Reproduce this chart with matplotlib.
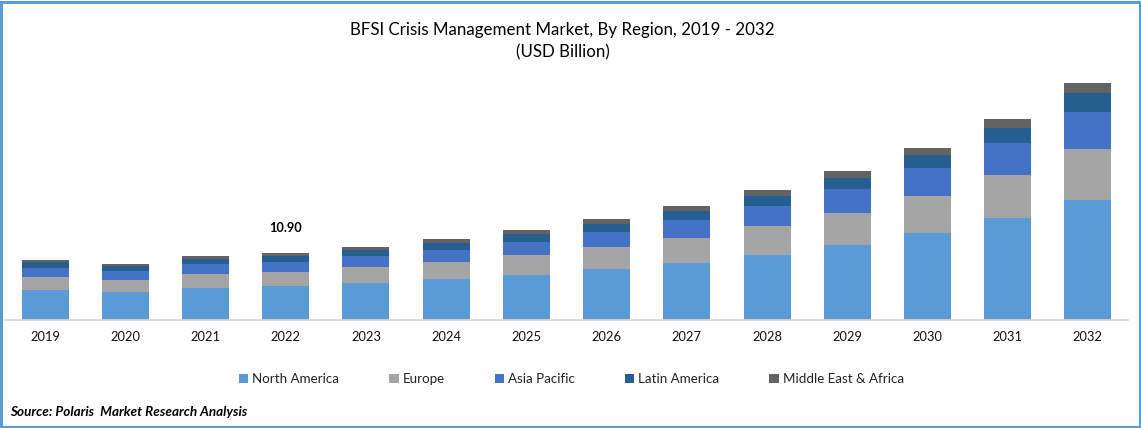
import matplotlib.pyplot as plt
import numpy as np
from matplotlib.patches import Rectangle
plt.rcParams.update({'font.family': ['Lato', 'DejaVu Sans']})

W, H = 1141, 428

years = [str(y) for y in range(2019, 2033)]
north_america = [4.79, 4.46, 5.12, 5.45, 5.95, 6.61, 7.27, 8.26, 9.25, 10.57, 12.22, 14.20, 16.68, 19.65]
europe = [2.15, 1.98, 2.31, 2.31, 2.64, 2.81, 3.30, 3.63, 4.13, 4.79, 5.28, 6.11, 7.10, 8.42]
asia_pacific = [1.49, 1.49, 1.65, 1.65, 1.82, 1.98, 2.15, 2.48, 2.97, 3.30, 3.96, 4.62, 5.28, 6.11]
latin_america = [0.99, 0.83, 0.83, 0.99, 0.99, 1.16, 1.32, 1.32, 1.49, 1.65, 1.82, 2.15, 2.48, 2.97]
mea = [0.33, 0.33, 0.50, 0.50, 0.50, 0.66, 0.66, 0.83, 0.83, 0.99, 1.16, 1.16, 1.49, 1.65]

names = ['North America', 'Europe', 'Asia Pacific', 'Latin America', 'Middle East & Africa']
series = [north_america, europe, asia_pacific, latin_america, mea]
colors = ['#5B9BD5', '#A5A5A5', '#4472C4', '#255E91', '#636363']

fig = plt.figure(figsize=(W/100, H/100), dpi=100)
ax = fig.add_axes([5/W, 1-319.5/H, 1123/W, 249.5/H])

x = np.arange(len(years))
bottom = np.zeros(len(years))
for name, vals, col in zip(names, series, colors):
    ax.bar(x, vals, 0.586, bottom=bottom, color=col, label=name)
    bottom += np.array(vals)

ax.set_xlim(-0.5, 13.5)
ax.set_ylim(0, 41.0)
ax.set_yticks([])
ax.set_xticks(x, years, fontsize=9.3, color='#111111')
ax.tick_params(axis='x', length=0, pad=8.5)
for s in ['top', 'left', 'right']:
    ax.spines[s].set_visible(False)
ax.spines['bottom'].set_color('#D9D9D9')
ax.spines['bottom'].set_linewidth(1.2)

ax.text(3, 10.90+3.15, '10.90', ha='center', va='bottom', fontsize=9.2, fontweight='bold')

fig.text(562.5/W, 1-29.5/H, 'BFSI Crisis Management Market, By Region, 2019 - 2032', ha='center', va='center', fontsize=12.15)
fig.text(562.5/W, 1-52.7/H, '(USD Billion)', ha='center', va='center', fontsize=12.15)

fig.legend(loc='center', bbox_to_anchor=(571.5/W, 1-379.3/H), ncol=5, frameon=False, fontsize=9.6,
           handlelength=0.7, handleheight=0.7, handletextpad=0.3, columnspacing=3.75, labelcolor='#222222')

fig.text(10/W, 1-412.5/H, 'Source: Polaris  Market Research Analysis', ha='left', va='center',
         fontsize=9.7, fontweight='bold', fontstyle='italic')

# blue frame round the picture
fig.add_artist(Rectangle((1/W, 1.5/H), (W-2)/W, (H-3)/H, transform=fig.transFigure, fill=False,
                         edgecolor='#5B9BD5', linewidth=2.2))

fig.savefig('out.png', dpi=100)
